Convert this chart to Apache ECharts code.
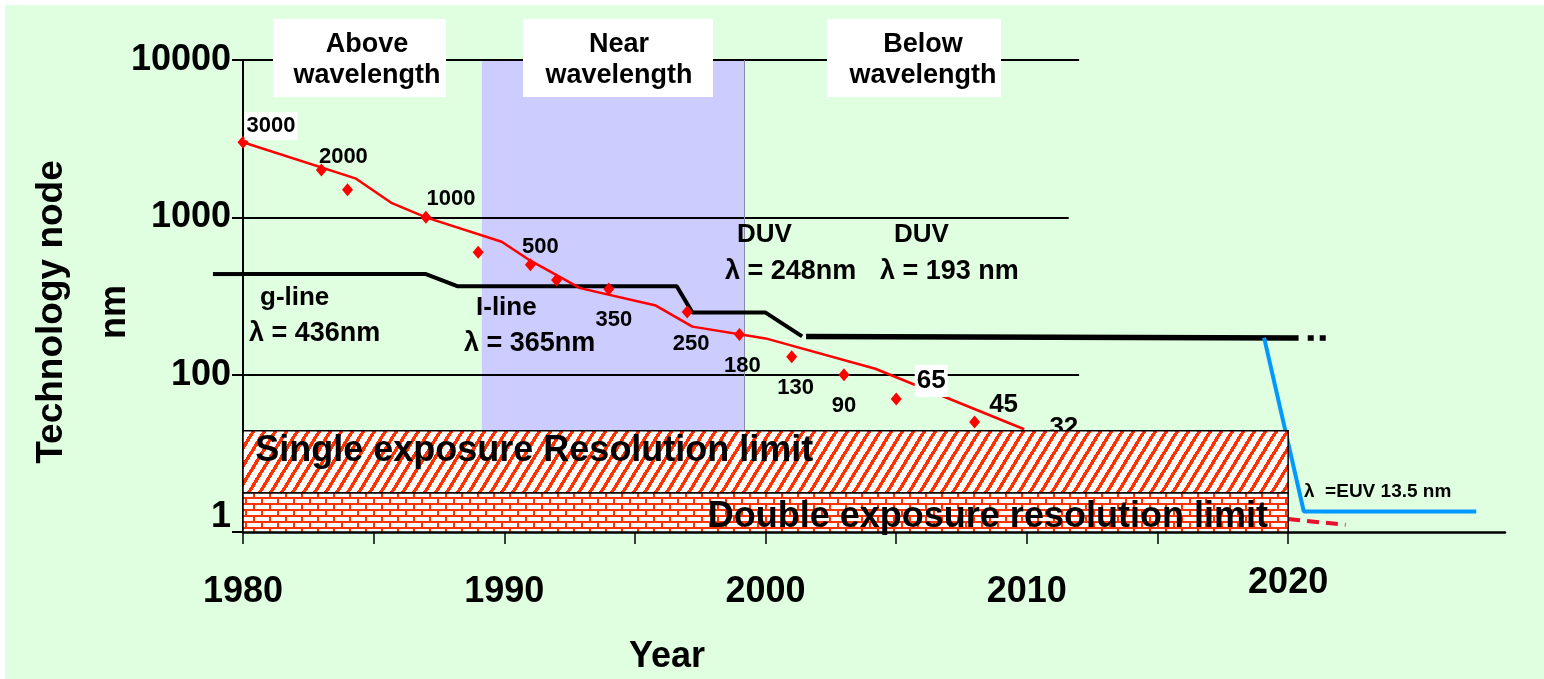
<!DOCTYPE html>
<html>
<head>
<meta charset="utf-8">
<script src="https://cdn.jsdelivr.net/npm/echarts@6/dist/echarts.min.js"></script>
<style>
  html, body { margin: 0; padding: 0; background: #fff; }
  #chart { position: absolute; left: 5px; top: 5px; width: 1539px; height: 674px; }
</style>
</head>
<body>
<div id="chart"></div>
<script>
// technology nodes (red diamonds)
const nodeYears  = [1980, 1983, 1984, 1987, 1989, 1991, 1992, 1994, 1997, 1999, 2001, 2003, 2005, 2008, 2010];
const nodeValues = [3000, 2000, 1500, 1000, 600, 500, 400, 350, 250, 180, 130, 100, 70, 50, 32];
const nodeLabels = ['3000', '2000', '', '1000', '', '500', '', '350', '250', '180', '130', '90', '65', '45', '32'];

// red trend line
const trendYears  = [1980, 1984.3, 1985.7, 1987, 1989.9, 1991, 1992.9, 1995.8, 1997.2, 2000, 2004.2, 2009.9];
const trendValues = [3000, 1770, 1230, 1000, 700, 530, 355, 275, 202, 170, 109, 45];

// exposure wavelength (g-line, I-line, KrF)
const wlYears  = [1978.85, 1987, 1988.2, 1996.6, 1997.2, 2000, 2001.4];
const wlValues = [436, 436, 365, 365, 248, 248, 175];
// ArF
const arfYears  = [2001.55, 2020.4];
const arfValues = [175, 171];
const arfDotYears  = [2020.75, 2021.5];
const arfDotValues = [171, 171];
// EUV
const euvYears  = [2019.08, 2020.6, 2027.2];
const euvValues = [172, 13.5, 13.5];
// double exposure (red dashed)
const dblYears  = [2020.0, 2022.2];
const dblValues = [12.1, 11.1];

// regions
const nearRange = [1989.14, 1999.2];
const limitYears = [1980, 2020];
const singleLimit = [44, 17.7];
const doubleLimit = [17.7, 10];

// gridlines that stop short of the axis end
const gridValues = [10000, 1000, 100];
const gridEnds = [2012, 2011.6, 2012];

const xTicks = [1980, 1985, 1990, 1995, 2000, 2005, 2010, 2015, 2020];
const xLabels = [1980, 1990, 2000, 2010, 2020];

const FONT = '"Liberation Sans", Arial, sans-serif';

function zip(a, b) { return a.map((v, i) => [v, b[i]]); }

// diagonal red stripes
function stripes() {
  const w = 11, h = 18, c = document.createElement('canvas');
  c.width = w; c.height = h;
  const g = c.getContext('2d');
  g.fillStyle = '#fff'; g.fillRect(0, 0, w, h);
  g.fillStyle = '#FF3300';
  for (let y = 0; y < h; y++) {
    for (let x = 0; x < w; x++) {
      if (((x + y * w / h) % w) < 4) g.fillRect(x, y, 1, 1);
    }
  }
  return c;
}
// red brick
function bricks() {
  const w = 16, h = 12, c = document.createElement('canvas');
  c.width = w; c.height = h;
  const g = c.getContext('2d');
  g.fillStyle = '#fff'; g.fillRect(0, 0, w, h);
  g.fillStyle = '#FF3300';
  g.fillRect(0, 0, w, 2); g.fillRect(0, 6, w, 2);
  g.fillRect(0, 2, 2, 4); g.fillRect(8, 8, 2, 4);
  return c;
}

const labelOffsets = [[28, -16], [22, -13], null, [25, -18], null, [10, -18], null, [5, 31], [4, 32], [3, 31], [4, 31], [0, 31], [35, -18], [29, -17], [37, -25]];
const nodeData = nodeYears.map((yr, i) => {
  const big = i >= 12;
  const lab = {
    show: nodeLabels[i] !== '',
    formatter: nodeLabels[i],
    position: ['50%', '50%'],
    align: 'center',
    verticalAlign: 'middle',
    offset: labelOffsets[i] || [0, 0],
    color: '#000',
    fontFamily: FONT,
    fontWeight: 'bold',
    fontSize: big ? 26 : 22
  };
  if (i === 0 || i === 12) { lab.backgroundColor = '#fff'; lab.padding = [3, 2]; }
  return { value: [yr, nodeValues[i]], label: lab };
});

function txt(x, y, text, size, align, extra) {
  return Object.assign({
    type: 'text', x: x, y: y, z: 101,
    style: { text: text, font: 'bold ' + size + 'px ' + FONT, fill: '#000', align: align || 'left', verticalAlign: 'middle', lineHeight: 31 }
  }, extra || {});
}
function box(x, y, w, h) {
  return { type: 'rect', z: 100, shape: { x: x, y: y, width: w, height: h }, style: { fill: '#fff' } };
}

const chart = echarts.init(document.getElementById('chart'), null, { renderer: 'canvas' });

const option = {
  animation: false,
  backgroundColor: '#E0FFE0',
  grid: { left: 238, top: 55, right: 39, bottom: 147 },
  xAxis: {
    type: 'value', min: 1980, max: 2028.3, interval: 5,
    axisLine: { show: true, lineStyle: { color: '#000', width: 2.5 } },
    axisTick: { show: true, length: 12, customValues: xTicks, lineStyle: { color: '#000', width: 1.5 } },
    splitLine: { show: false },
    axisLabel: {
      customValues: xLabels, margin: 33,
      formatter: v => v === 2020 ? '{hi|2020}' : '{lo|' + v + '}',
      rich: {
        hi: { fontSize: 36, fontWeight: 'bold', fontFamily: FONT, color: '#000' },
        lo: { fontSize: 36, fontWeight: 'bold', fontFamily: FONT, color: '#000', padding: [9, 0, 0, 0] }
      }
    }
  },
  yAxis: {
    type: 'log', logBase: 10, min: 10, max: 10000,
    axisLine: { show: true, lineStyle: { color: '#000', width: 2 } },
    axisTick: { show: true, length: 11, lineStyle: { color: '#000', width: 2 } },
    minorTick: { show: false },
    splitLine: { show: false },
    axisLabel: {
      margin: 12,
      formatter: v => Math.round(v) === 10 ? '{one|1}' : '{n|' + Math.round(v) + '}',
      rich: {
        n: { fontSize: 36, fontWeight: 'bold', fontFamily: FONT, color: '#000' },
        one: { fontSize: 36, fontWeight: 'bold', fontFamily: FONT, color: '#000', padding: [0, 0, 30, 0] }
      }
    }
  },
  series: [
    {
      // near-wavelength shading
      type: 'line', data: [[1980, 10]], symbol: 'none', lineStyle: { width: 0 }, z: 1, silent: true,
      markArea: {
        silent: true, z: 1,
        itemStyle: { color: '#CCCCFF', opacity: 1 },
        data: [[{ coord: [nearRange[0], 10000] }, { coord: [nearRange[1], singleLimit[0]] }]]
      }
    },
    {
      // short gridlines
      type: 'line', data: [[1980, 10]], symbol: 'none', lineStyle: { width: 0 }, z: 2, silent: true,
      markLine: {
        silent: true, z: 2, symbol: ['none', 'none'], label: { show: false },
        lineStyle: { color: '#000', width: 2, type: 'solid' },
        data: gridValues.map((v, i) => [{ coord: [1980, v] }, { coord: [gridEnds[i], v] }]).concat([
          [{ coord: [nearRange[1], 10000], lineStyle: { color: '#8a8aa8', width: 1, type: 'solid' } }, { coord: [nearRange[1], singleLimit[0]] }]
        ])
      }
    },
    {
      type: 'line', data: zip(wlYears, wlValues), symbol: 'none', clip: false, z: 3,
      lineStyle: { color: '#000', width: 4 }
    },
    {
      type: 'line', data: zip(arfYears, arfValues), symbol: 'none', z: 3,
      lineStyle: { color: '#000', width: 5.5 }
    },
    {
      type: 'line', data: zip(arfDotYears, arfDotValues), symbol: 'none', z: 3,
      lineStyle: { color: '#000', width: 5.5, type: [6, 6] }
    },
    {
      type: 'line', data: zip(euvYears, euvValues), symbol: 'none', z: 3,
      lineStyle: { color: '#0099FF', width: 4 }
    },
    {
      type: 'line', data: zip(dblYears, dblValues), symbol: 'none', z: 3,
      lineStyle: { color: '#E8112D', width: 4, type: [12, 7] }
    },
    {
      type: 'line', data: zip(trendYears, trendValues), symbol: 'none', z: 4,
      lineStyle: { color: '#FF0000', width: 2.5 }
    },
    {
      type: 'scatter', data: nodeData, symbol: 'diamond', symbolSize: [11, 13], z: 5,
      itemStyle: { color: '#FF0000', opacity: 1 }
    },
    {
      // resolution limit boxes
      type: 'line', data: [[1980, 10]], symbol: 'none', lineStyle: { width: 0 }, z: 20, silent: true,
      markArea: {
        silent: true, z: 20,
        data: [
          [{
            name: 'Single exposure Resolution limit',
            coord: [limitYears[0], singleLimit[0]],
            itemStyle: { color: { image: stripes(), repeat: 'repeat' }, opacity: 1, borderColor: '#000', borderWidth: 1.5 },
            label: { show: true, position: 'insideLeft', distance: 13, offset: [0, -11], color: '#000', fontFamily: FONT, fontWeight: 'bold', fontSize: 36 }
          }, { coord: [limitYears[1], singleLimit[1]] }],
          [{
            name: 'Double exposure resolution limit',
            coord: [limitYears[0], doubleLimit[0]],
            itemStyle: { color: { image: bricks(), repeat: 'repeat' }, opacity: 1, borderColor: '#000', borderWidth: 1.5 },
            label: { show: true, position: 'insideRight', distance: 21, offset: [0, 5], color: '#000', fontFamily: FONT, fontWeight: 'bold', fontSize: 36 }
          }, { coord: [limitYears[1], doubleLimit[1]] }]
        ]
      }
    }
  ],
  graphic: [
    box(268, 14, 173, 78), txt(362, 55.5, 'Above\nwavelength', 27, 'center'),
    box(518, 14, 190, 78), txt(614, 55.5, 'Near\nwavelength', 27, 'center'),
    box(822, 14, 174, 78), txt(918, 55.5, 'Below\nwavelength', 27, 'center'),
    txt(255, 293, 'g-line', 26),
    txt(244, 329, 'λ = 436nm', 27),
    txt(471, 303, 'I-line', 26),
    txt(459, 339, 'λ = 365nm', 27),
    txt(732, 230, 'DUV', 26),
    txt(720, 267, 'λ = 248nm', 27),
    txt(889, 230, 'DUV', 26),
    txt(875, 267, 'λ = 193 nm', 27),
    txt(1299, 487, 'λ  =EUV 13.5 nm', 19),
    txt(47, 307, 'Technology node', 37, 'center', { rotation: Math.PI / 2 }),
    txt(110, 307, 'nm', 36, 'center', { rotation: Math.PI / 2 }),
    txt(662, 652, 'Year', 36, 'center')
  ]
};

chart.setOption(option);

// the g-line starts left of the y axis: extend it through the axis scale
const pA = chart.convertToPixel({ gridIndex: 0 }, [1980, wlValues[0]]);
const pB = chart.convertToPixel({ gridIndex: 0 }, [1990, wlValues[0]]);
const pxPerYear = (pB[0] - pA[0]) / 10;
const xStart = pA[0] + (wlYears[0] - 1980) * pxPerYear;
chart.setOption({
  graphic: [{
    id: 'gline-stub', type: 'line', z: 3,
    shape: { x1: xStart, y1: pA[1], x2: pA[0] + 1, y2: pA[1] },
    style: { stroke: '#000', lineWidth: 4 }
  }]
});
</script>
</body>
</html>
